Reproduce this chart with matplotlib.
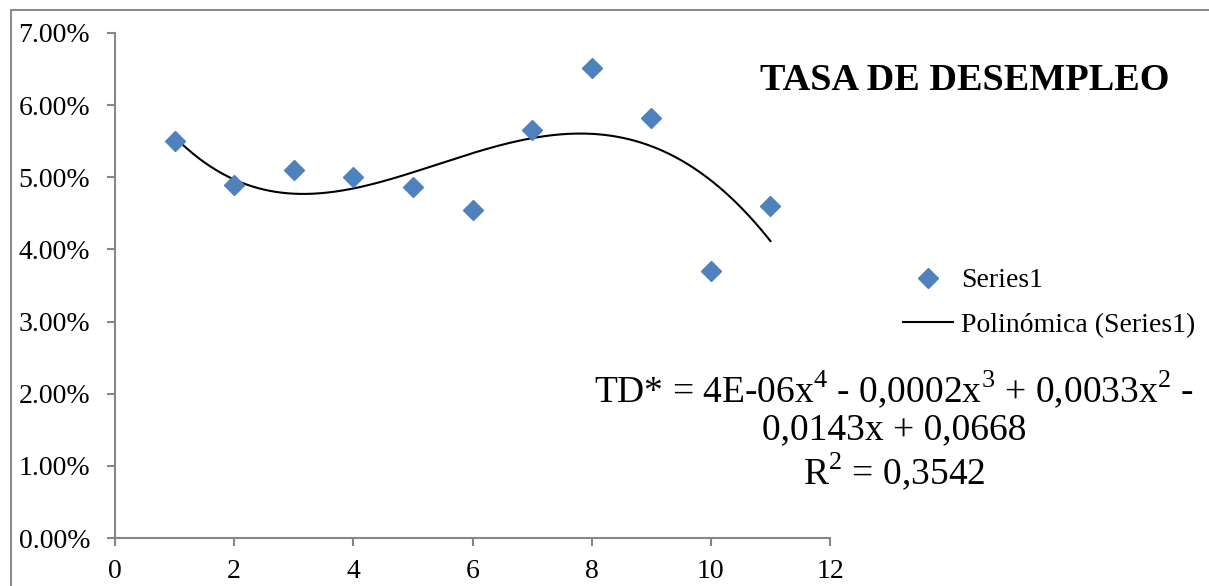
"""Tasa de desempleo: scatter + 4th order polynomial trendline (Excel style)."""

import matplotlib.pyplot as plt
import numpy as np
from matplotlib.patches import Rectangle
from matplotlib.ticker import FuncFormatter

periods = [1, 2, 3, 4, 5, 6, 7, 8, 9, 10, 11]
rates = [0.0550, 0.0490, 0.0510, 0.0500, 0.0486, 0.0454, 0.0566, 0.0652, 0.0582, 0.0370, 0.0460]
x_ticks = [0, 2, 4, 6, 8, 10, 12]
y_ticks = [0.00, 0.01, 0.02, 0.03, 0.04, 0.05, 0.06, 0.07]

title = "TASA DE DESEMPLEO"
equation = ("TD* = 4E-06x$^4$ - 0,0002x$^3$ + 0,0033x$^2$ -\n"
            "0,0143x + 0,0668\nR$^2$ = 0,3542")

BLUE = "#4F81BD"
GREY = "#868686"

plt.rcParams["font.family"] = ["Liberation Serif", "DejaVu Serif"]
plt.rcParams["mathtext.fontset"] = "custom"
plt.rcParams["mathtext.rm"] = "Liberation Serif"

W, H = 1209, 586
fig = plt.figure(figsize=(W / 100, H / 100), dpi=100)
ax = fig.add_axes([115 / W, 1 - 538 / H, (830 - 115) / W, (538 - 33) / H])

# trendline fitted from the data (order 4, as in the label)
coef = np.polyfit(periods, rates, 4)
xs = np.linspace(min(periods), max(periods), 300)
ax.plot(xs, np.polyval(coef, xs), color="black", lw=1.5, label="Polinómica (Series1)", zorder=2)
ax.plot(periods, rates, ls="none", marker="D", ms=10.5, color=BLUE, label="Series1", zorder=3)

ax.set_xlim(0, 12)
ax.set_ylim(0, 0.07)
ax.set_xticks(x_ticks)
ax.set_yticks(y_ticks)
ax.yaxis.set_major_formatter(FuncFormatter(lambda v, _: f"{v * 100:.2f}%"))
for side in ("top", "right"):
    ax.spines[side].set_visible(False)
for side in ("left", "bottom"):
    ax.spines[side].set_color(GREY)
    ax.spines[side].set_linewidth(1.5)
ax.tick_params(colors=GREY, labelcolor="black", width=1.5, length=6, labelsize=20)
ax.tick_params(axis="y", pad=12)
ax.tick_params(axis="x", pad=9)

handles, labels = ax.get_legend_handles_labels()
fig.legend(handles[::-1], labels[::-1], loc="center left",
           bbox_to_anchor=(889 / W, 1 - 303 / H), frameon=False, fontsize=20,
           handlelength=1.8, handletextpad=0.3, labelspacing=0.7, borderpad=0)

fig.text(965 / W, 1 - 80 / H, title, fontsize=27.5, fontweight="bold", ha="center", va="center")
fig.text(894 / W, 1 - 430 / H, equation, fontsize=27, ha="center", va="center",
         linespacing=1.1)

# chart area border (cut off at the right and bottom in the original)
fig.add_artist(Rectangle((11 / W, -0.1), 1.2, 1 - 10 / H + 0.1, transform=fig.transFigure,
                         fill=False, edgecolor="#8C8C8C", lw=1.5))

fig.savefig("out.png", dpi=100)
